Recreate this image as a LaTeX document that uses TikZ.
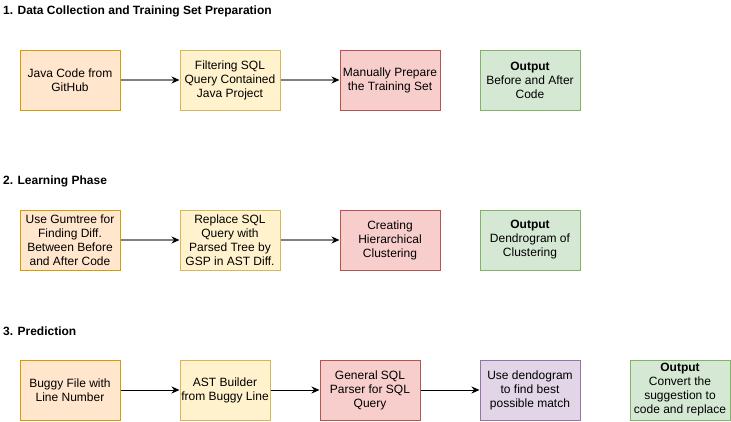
\documentclass[tikz,border=0pt]{standalone}
\usepackage{fontspec}
\setmainfont{Liberation Sans}
\usetikzlibrary{arrows.meta}
\definecolor{orangefill}{HTML}{FFE6CC}
\definecolor{orangeline}{HTML}{D79B00}
\definecolor{yellowfill}{HTML}{FFF2CC}
\definecolor{yellowline}{HTML}{D6B656}
\definecolor{redfill}{HTML}{F8CECC}
\definecolor{redline}{HTML}{B85450}
\definecolor{greenfill}{HTML}{D5E8D4}
\definecolor{greenline}{HTML}{82B366}
\definecolor{purplefill}{HTML}{E1D5E7}
\definecolor{purpleline}{HTML}{9673A6}
\definecolor{arrowgray}{HTML}{808080}

\begin{document}
\begin{tikzpicture}[x=1pt,y=-1pt,font=\fontsize{12}{14}\selectfont,
    box/.style={draw,line width=1pt,minimum width=100pt,minimum height=60pt,align=center,inner sep=1pt},
    orangebox/.style={box,fill=orangefill,draw=orangeline},
    yellowbox/.style={box,fill=yellowfill,draw=yellowline},
    redbox/.style={box,fill=redfill,draw=redline},
    greenbox/.style={box,fill=greenfill,draw=greenline},
    purplebox/.style={box,fill=purplefill,draw=purpleline},
    phase/.style={anchor=west,font=\fontsize{12}{14}\selectfont\bfseries,inner sep=0pt},
    grayarrow/.style={draw=arrowgray,line width=1.6pt,-{Stealth[length=8pt,width=7pt,black]}},
    blackarrow/.style={draw=black,line width=1pt,-{Stealth[length=8pt,width=7pt]}}]
    \useasboundingbox (0,0) rectangle (731,421);

    % Data collection
    \node[phase] (title1) at (3,11) {1. Data Collection and Training Set Preparation};
    \node[orangebox] (java) at (70,80) {Java Code from\\GitHub};
    \node[yellowbox] (filter) at (230,80) {Filtering SQL\\Query Contained\\Java Project};
    \node[redbox] (manual) at (390,80) {Manually Prepare\\the Training Set};
    \node[greenbox] (out1) at (530,80) {\textbf{Output}\\Before and After\\Code};
    \draw[grayarrow] (java) -- (filter);
    \draw[grayarrow] (filter) -- (manual);

    % Learning phase
    \node[phase] (title2) at (3,181) {2. Learning Phase};
    \node[orangebox] (gumtree) at (70,240) {Use Gumtree for\\Finding Diff.\\Between Before\\and After Code};
    \node[yellowbox] (replace) at (230,240) {Replace SQL\\Query with\\Parsed Tree by\\GSP in AST Diff.};
    \node[redbox] (cluster) at (390,240) {Creating\\Hierarchical\\Clustering};
    \node[greenbox] (out2) at (530,240) {\textbf{Output}\\Dendrogram of\\Clustering};
    \draw[grayarrow] (gumtree) -- (replace);
    \draw[grayarrow] (replace) -- (cluster);

    % Prediction
    \node[phase] (title3) at (3,331) {3. Prediction};
    \node[orangebox] (buggy) at (70,390) {Buggy File with\\Line Number};
    \node[yellowbox,minimum width=90pt] (ast) at (225,390) {AST Builder\\from Buggy Line};
    \node[redbox] (gsp) at (370,390) {General SQL\\Parser for SQL\\Query};
    \node[purplebox] (dendo) at (530,390) {Use dendogram\\to find best\\possible match};
    \node[greenbox] (out3) at (680,390) {\textbf{Output}\\Convert the\\suggestion to\\code and replace};
    \draw[blackarrow] (buggy) -- (ast);
    \draw[blackarrow] (ast) -- (gsp);
    \draw[blackarrow] (gsp) -- (dendo);
\end{tikzpicture}
\end{document}
